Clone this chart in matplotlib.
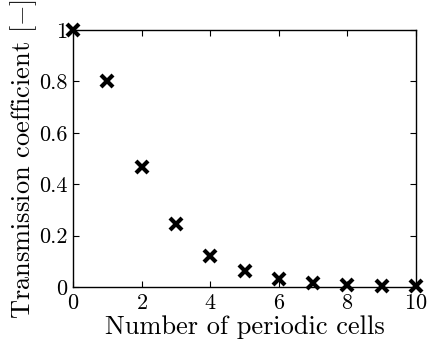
import matplotlib
matplotlib.use("Agg")
import matplotlib.pyplot as plt

plt.rcParams["font.family"] = "cmr10"
plt.rcParams["mathtext.fontset"] = "cm"
plt.rcParams["axes.unicode_minus"] = False
plt.rcParams["axes.formatter.use_mathtext"] = True

# transmission vs number of cells
cells = [0, 1, 2, 3, 4, 5, 6, 7, 8, 9, 10]
transmission = [1.0, 0.80, 0.468, 0.244, 0.122, 0.062, 0.031, 0.016, 0.008, 0.004, 0.002]
xticks = [0, 2, 4, 6, 8, 10]
yticks = [0, 0.2, 0.4, 0.6, 0.8, 1]
ytick_labels = ["0", "0.2", "0.4", "0.6", "0.8", "1"]

fig = plt.figure(figsize=(4.28, 3.44), dpi=100)
ax = fig.add_axes([73 / 428, 1 - 287 / 344, 343 / 428, 257 / 344])

ax.plot(cells, transmission, "kx", markersize=8, markeredgewidth=3, clip_on=False, zorder=5)

ax.set_xlim(0, 10)
ax.set_ylim(0, 1)
ax.set_xticks(xticks)
ax.set_yticks(yticks)
ax.set_yticklabels(ytick_labels)
ax.tick_params(direction="in", top=True, right=True, length=4, width=0.8,
               labelsize=16)
ax.tick_params(axis="x", pad=5)
ax.tick_params(axis="y", pad=4)
for s in ax.spines.values():
    s.set_linewidth(1.0)

ax.set_xlabel("Number of periodic cells", fontsize=19, labelpad=1)
ax.set_ylabel(r"Transmission coefficient $[-]$", fontsize=19, labelpad=0)

fig.savefig("out.png", dpi=100)
